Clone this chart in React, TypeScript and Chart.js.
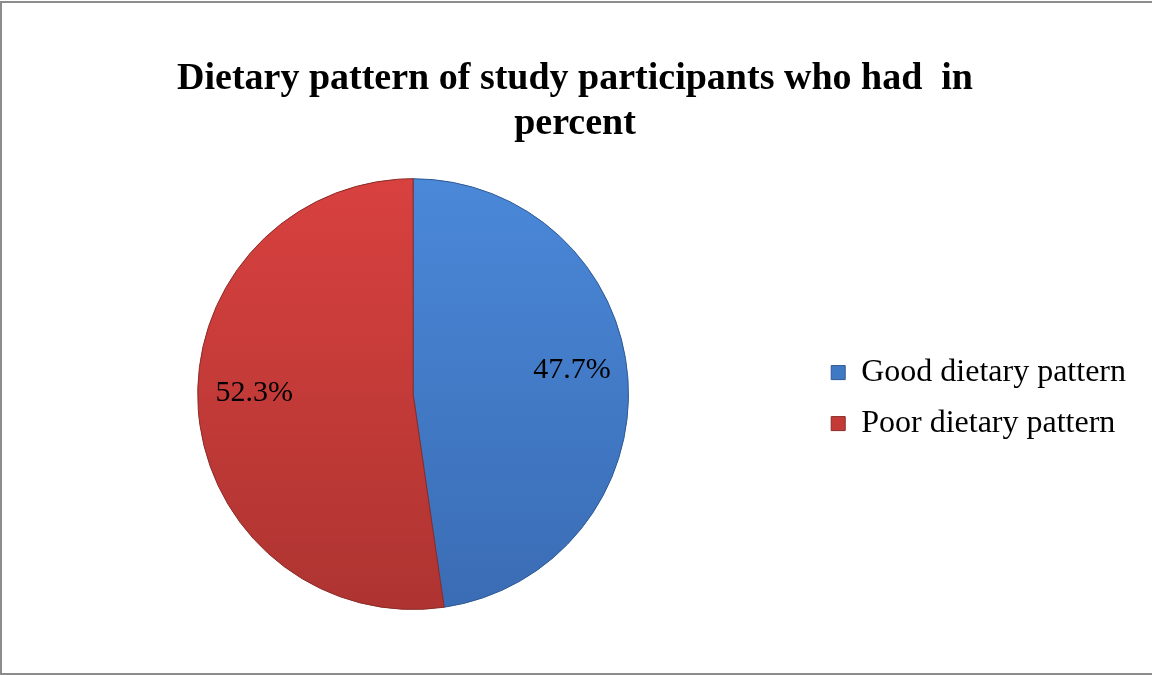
import React, { useEffect, useRef } from "react";
import { Chart, registerables } from "chart.js";

Chart.register(...registerables);

const categories = ["Good dietary pattern", "Poor dietary pattern"];
const values = [47.7, 52.3];
const labelsText = ["47.7%", "52.3%"];
const titleLines = ["Dietary pattern of study participants who had  in", "percent"];

const topColors = ["#4a88d8", "#d8413f"];
const bottomColors = ["#3a6cb4", "#ae3431"];
const edgeColors = ["#2d5894", "#8a2a27"];
const legendColors = ["#3f79c4", "#c43a37"];

const FONT = "'Liberation Serif', 'Times New Roman', serif";

const dataLabelPlugin = {
  id: "dataLabelPlugin",
  afterDatasetsDraw(chart: any) {
    const ctx = chart.ctx;
    const meta = chart.getDatasetMeta(0);
    ctx.save();
    ctx.font = `30px ${FONT}`;
    ctx.fillStyle = "#000";
    ctx.textAlign = "center";
    ctx.textBaseline = "middle";
    meta.data.forEach((arc: any, i: number) => {
      const p = arc.getProps(["x", "y", "startAngle", "endAngle", "outerRadius"], true);
      const mid = (p.startAngle + p.endAngle) / 2;
      const r = p.outerRadius * 0.74;
      const x = p.x + Math.cos(mid) * r;
      const y = p.y + Math.sin(mid) * r - 12;
      ctx.fillText(labelsText[i], x, y);
    });
    ctx.restore();
  },
};

export default function App() {
  const ref = useRef<HTMLCanvasElement>(null);
  useEffect(() => {
    document.body.style.margin = "0";
    const canvas = ref.current!;
    const chart = new Chart(canvas, {
      type: "pie",
      data: {
        labels: categories,
        datasets: [
          {
            data: values,
            backgroundColor: (c: any) => {
              const area = c.chart.chartArea;
              const i = c.dataIndex;
              if (!area) return topColors[i];
              const g = c.chart.ctx.createLinearGradient(0, area.top, 0, area.bottom);
              g.addColorStop(0, topColors[i]);
              g.addColorStop(1, bottomColors[i]);
              return g;
            },
            borderColor: edgeColors,
            borderWidth: 1,
          },
        ],
      },
      options: {
        animation: false,
        responsive: false,
        devicePixelRatio: 1,
        layout: { padding: { left: 14, right: 16, top: 0, bottom: 65 } },
        plugins: {
          tooltip: { enabled: false },
          title: {
            display: true,
            text: titleLines,
            color: "#000",
            font: { family: FONT, size: 38, weight: "bold", lineHeight: 1.2 },
            padding: { top: 56, bottom: 31 },
          },
          legend: {
            position: "right",
            fullSize: false,
            title: {
              display: true,
              text: " ",
              color: "#000",
              font: { family: FONT, size: 6, lineHeight: 1 },
              padding: { top: 1, bottom: 1 },
            },
            labels: {
              color: "#000",
              font: { family: FONT, size: 32 },
              boxWidth: 14,
              boxHeight: 14,
              padding: 19,
              generateLabels: () =>
                categories.map((t, i) => ({
                  text: t,
                  fillStyle: legendColors[i],
                  strokeStyle: edgeColors[i],
                  fontColor: "#000",
                  lineWidth: 1,
                  hidden: false,
                  index: i,
                })),
            },
          },
        },
      },
      plugins: [dataLabelPlugin],
    } as any);
    return () => chart.destroy();
  }, []);
  return (
    <div style={{ position: "relative", width: 1152, height: 675, background: "#fff" }}>
      <div
        style={{
          position: "absolute",
          left: 0,
          top: 1,
          width: 1152,
          height: 674,
          boxSizing: "border-box",
          borderTop: "2px solid #8c8c8c",
          borderLeft: "2px solid #8c8c8c",
          borderBottom: "2px solid #8c8c8c",
        }}
      />
      <canvas ref={ref} width={1152} height={675} style={{ position: "absolute", left: 0, top: 0 }} />
    </div>
  );
}
